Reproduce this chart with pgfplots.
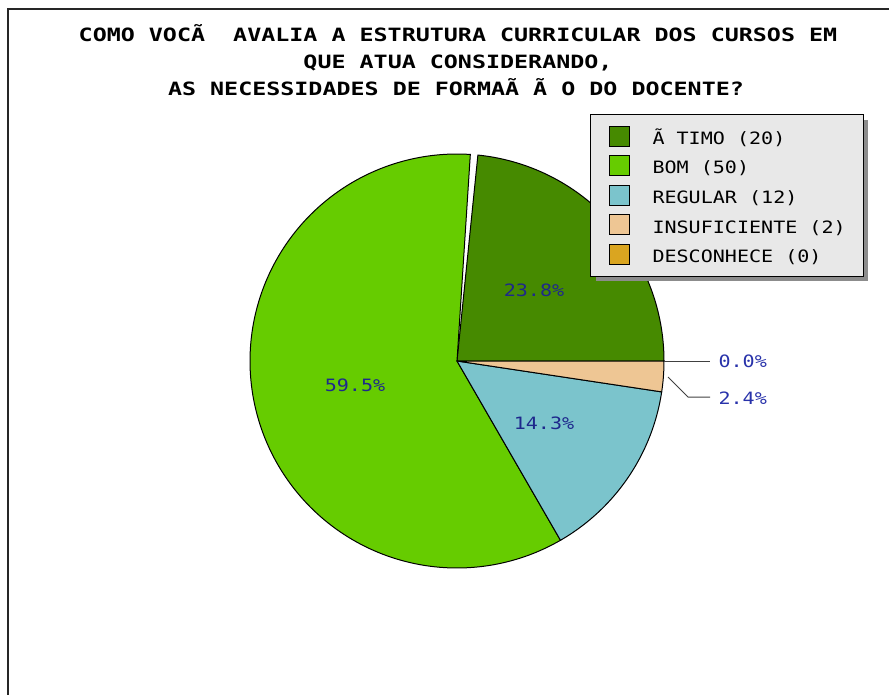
\documentclass[border=0pt]{standalone}
\usepackage{pgfplots}
\pgfplotsset{compat=1.18}
\usepackage{pgfplotstable}
\usepackage{fontspec}
\setmainfont{DejaVu Sans Mono}
\newfontfamily\titlefont[FakeStretch=1.275]{DejaVu Sans Mono}
\newfontfamily\labfontfam[FakeStretch=1.18]{DejaVu Sans Mono}
\newcommand\labfont{\labfontfam\fontsize{17}{20}\selectfont}
\newcommand\tfont{\titlefont\bfseries\fontsize{18.3}{22}\selectfont}

\definecolor{cOtimo}{RGB}{70,138,0}
\definecolor{cBom}{RGB}{102,204,0}
\definecolor{cReg}{RGB}{123,196,204}
\definecolor{cIns}{RGB}{238,198,148}
\definecolor{cDes}{RGB}{218,165,32}
\definecolor{legbg}{RGB}{232,232,232}
\definecolor{labin}{RGB}{30,40,140}
\definecolor{labout}{RGB}{40,50,170}

\pgfplotstableread{
cat value
OTIMO 20
BOM 50
REGULAR 12
INSUFICIENTE 2
DESCONHECE 0
}\piedata

\begin{document}%
\begin{tikzpicture}
\pgfplotstablegetelem{0}{value}\of\piedata \let\vA\pgfplotsretval
\pgfplotstablegetelem{1}{value}\of\piedata \let\vB\pgfplotsretval
\pgfplotstablegetelem{2}{value}\of\piedata \let\vC\pgfplotsretval
\pgfplotstablegetelem{3}{value}\of\piedata \let\vD\pgfplotsretval
\pgfplotstablegetelem{4}{value}\of\piedata \let\vE\pgfplotsretval
\pgfmathsetmacro\tot{\vA+\vB+\vC+\vD+\vE}
\pgfmathsetmacro\aA{\vA/\tot*360}
\pgfmathsetmacro\aB{\aA+\vB/\tot*360}
\pgfmathsetmacro\aC{\aB+\vC/\tot*360}
\pgfmathsetmacro\aD{\aC+\vD/\tot*360}
\pgfmathsetmacro\aAend{\aA-1.5}
\pgfmathsetmacro\aBstart{\aA+0.6}
\begin{axis}[
  width=889pt, height=695pt, scale only axis,
  xmin=0, xmax=889, ymin=0, ymax=695, y dir=reverse,
  hide axis, clip=false,
  legend image code/.code={\draw[#1, line width=1pt] (0pt,0pt) rectangle (20pt,20pt);},
  legend style={at={(axis cs:590,114)}, anchor=north west,
    draw=black, line width=1pt, fill=legbg,
    inner xsep=18pt, inner ysep=11.5pt, row sep=8.5pt, column sep=23pt,
    cells={anchor=south west},
    column 2/.style={text height=14pt, text depth=3.8pt},
    nodes={inner sep=0pt, font=\labfont, text=black}},
]
% frame
\draw[line width=2pt, black!85] (axis cs:8,695) -- (axis cs:8,9) -- (axis cs:889,9);
% slices
\addplot[draw=black, line width=1pt, fill=cOtimo, domain=0:\aAend, samples=80, variable=\t]
  ({457+207*cos(t)}, {361-207*sin(t)}) -- (axis cs:457,361) -- cycle;
\addlegendentry{Ã TIMO (20)}
\addplot[draw=black, line width=1pt, fill=cBom, domain=\aBstart:\aB, samples=160, variable=\t]
  ({457+207*cos(t)}, {361-207*sin(t)}) -- (axis cs:457,361) -- cycle;
\addlegendentry{BOM (50)}
\addplot[draw=black, line width=1pt, fill=cReg, domain=\aB:\aC, samples=60, variable=\t]
  ({457+207*cos(t)}, {361-207*sin(t)}) -- (axis cs:457,361) -- cycle;
\addlegendentry{REGULAR (12)}
\addplot[draw=black, line width=1pt, fill=cIns, domain=\aC:\aD, samples=20, variable=\t]
  ({457+207*cos(t)}, {361-207*sin(t)}) -- (axis cs:457,361) -- cycle;
\addlegendentry{INSUFICIENTE (2)}
\addlegendimage{draw=black, fill=cDes}
\addlegendentry{DESCONHECE (0)}
% leader lines
\addplot[forget plot, draw=black!75, line width=1pt] coordinates {(664,361) (710,361)};
\addplot[forget plot, draw=black!75, line width=1pt] coordinates {(668,377) (688,397) (710,397)};
% legend shadow
\fill[black!45] (axis cs:596,120) rectangle (axis cs:868,281);
% labels
\node[anchor=base, text=labin, font=\labfont] at (axis cs:534,296) {23.8\%};
\node[anchor=base, text=labin, font=\labfont] at (axis cs:355,391) {59.5\%};
\node[anchor=base, text=labin, font=\labfont] at (axis cs:544,429) {14.3\%};
\node[anchor=base west, text=labout, font=\labfont] at (axis cs:715,367) {0.0\%};
\node[anchor=base west, text=labout, font=\labfont] at (axis cs:715,404) {2.4\%};
% title
\node[anchor=base, font=\tfont] at (axis cs:458,41.7) {COMO VOCÃ\ \ AVALIA A ESTRUTURA CURRICULAR DOS CURSOS EM};
\node[anchor=base, font=\tfont] at (axis cs:458,68.5) {QUE ATUA CONSIDERANDO‚};
\node[anchor=base, font=\tfont] at (axis cs:456,95.3) {AS NECESSIDADES DE FORMAÃ Ã O DO DOCENTE?};
\end{axis}
\pgfresetboundingbox
\path[use as bounding box] (0,0) rectangle (889pt,695pt);
\end{tikzpicture}%
\end{document}
